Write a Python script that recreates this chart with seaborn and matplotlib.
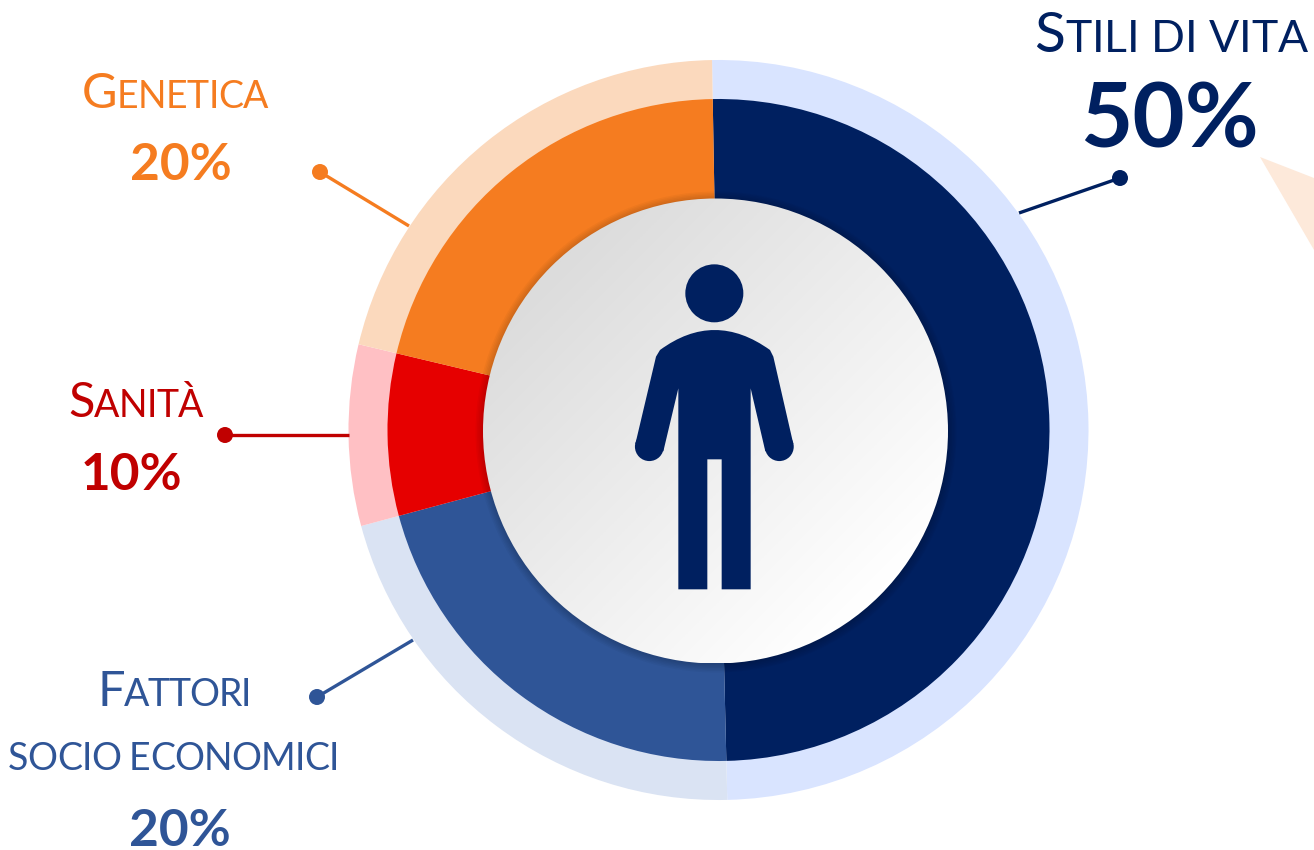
import numpy as np
import seaborn as sns
import matplotlib.pyplot as plt
from matplotlib.patches import Circle, Polygon, PathPatch
from matplotlib.path import Path

categories = ['Stili di vita', 'Fattori socio economici', 'Sanità', 'Genetica']
# angular shares as drawn (the ring is not exactly the printed percentages)
shares = [49.9, 21.2, 7.9, 21.0]
printed = ['50%', '20%', '10%', '20%']
ring_colors = ['#002060', '#2F5597', '#E60000', '#F57C20']
halo_colors = ['#D9E4FF', '#DAE3F3', '#FFC0C4', '#FBD9BD']
text_colors = ['#002060', '#2F5597', '#C00000', '#F57C20']

FONT = 'Lato'

sns.set_theme(style='white')
plt.rcParams['font.family'] = [FONT, 'DejaVu Sans']

fig = plt.figure(figsize=(13.14, 8.5), dpi=100)
ax = fig.add_axes([0, 0, 1, 1])

# y runs downward so everything is in picture pixels, theta goes clockwise on screen
cx, cy = 718.5, 430
ax.pie(shares, colors=halo_colors, radius=370, center=(cx, cy), startangle=-91,
       wedgeprops={'linewidth': 0})
ax.pie(shares, colors=ring_colors, radius=331, center=(cx, cy), startangle=-91,
       wedgeprops={'linewidth': 0})
ax.set_xlim(0, 1314)
ax.set_ylim(850, 0)
ax.set_aspect('equal')
ax.axis('off')

# soft shadow below the centre disc
disc_x, disc_y, disc_r = 715.5, 431, 232.5
for grow in np.arange(8, 0, -1.5):
    ax.add_patch(Circle((disc_x + 0.5, disc_y + 1), disc_r + grow, fc='black',
                        ec='none', alpha=0.03, zorder=3))

# centre disc with diagonal grey gradient
xx, yy = np.meshgrid(np.linspace(0, 1, 300), np.linspace(0, 1, 300))
shade = np.clip((xx + yy - 0.3) / 1.4, 0, 1)
gradient = ax.imshow(shade, cmap=sns.blend_palette(['#DCDCDC', '#FFFFFF'], as_cmap=True),
                     extent=(disc_x - disc_r, disc_x + disc_r, disc_y + disc_r, disc_y - disc_r),
                     zorder=4, aspect='equal', interpolation='bilinear')
clip = Circle((disc_x, disc_y), disc_r, transform=ax.transData)
gradient.set_clip_path(clip)
ax.set_xlim(0, 1314)
ax.set_ylim(850, 0)


# person icon, coordinates read from a zoom at 3x
def zoomed(x, y):
    return (620 + x / 3, 250 + y / 3)


navy = ring_colors[0]
ax.add_patch(Circle(zoomed(283, 130), 29, fc=navy, ec='none', zorder=5))
ax.add_patch(Circle(zoomed(88, 590), 14.4, fc=navy, ec='none', zorder=5))
ax.add_patch(Circle(zoomed(478, 590), 14.4, fc=navy, ec='none', zorder=5))
verts = [(120, 300), (283, 180), (450, 300), (460, 320), (520, 582), (436, 604), (392, 415),
         (392, 1018), (305, 1018), (305, 628), (262, 628), (262, 1018), (175, 1018),
         (175, 415), (130, 604), (46, 582), (108, 320), (120, 300)]
codes = [Path.MOVETO, Path.CURVE3, Path.CURVE3] + [Path.LINETO] * 15
body = Path([zoomed(*v) for v in verts], codes)
ax.add_patch(PathPatch(body, fc=navy, ec='none', zorder=5))

# faint triangle cut off by the right edge
ax.add_patch(Polygon([(1260, 157), (1314, 178), (1314, 250)], fc='#FDE9DA', ec='none', zorder=1))

# leader lines
leaders = [((1019, 213), (1120, 178)), ((413, 640), (317, 697)),
           ((349, 435), (225, 435)), ((409, 226), (320, 172))]
for (start, end), color in zip(leaders, text_colors):
    ax.plot([start[0], end[0]], [start[1], end[1]], color=color, lw=2.4, zorder=2,
            solid_capstyle='butt')
    ax.add_patch(Circle(end, 8, fc=color, ec='none', zorder=2))


def small_caps(x, end, base, word, big, small, color):
    # first letter large, the rest as smaller capitals, spaced to fill x..end
    renderer = fig.canvas.get_renderer()
    letters = []
    total = 0
    for ch in word:
        size = big if ch.isupper() else small
        if ch == ' ':
            width = size * 100 / 72 * 0.24
            letters.append((None, width))
        else:
            t = ax.text(x, base, ch.upper(), fontsize=size, color=color, ha='left',
                        va='baseline', zorder=6)
            width = t.get_window_extent(renderer).width
            letters.append((t, width))
        total += width
    gap = (end - x - total) / (len(word) - 1)
    for t, width in letters:
        if t is not None:
            t.set_x(x)
        x += width + gap


small_caps(1034, 1308, 52, 'Stili di vita', 41, 32, text_colors[0])
small_caps(82, 268, 108, 'Genetica', 35, 27, text_colors[3])
small_caps(68, 203, 417, 'Sanità', 35, 27, text_colors[2])
small_caps(97, 251, 706, 'Fattori', 35, 27, text_colors[1])
small_caps(8, 339, 770, 'socio economici', 27, 27, text_colors[1])

pct_pos = [(1169, 147, 65), (180, 846, 37), (131, 490, 37), (181, 180, 37)]
for (x, y, size), label, color in zip(pct_pos, printed, text_colors):
    ax.text(x, y, label, fontsize=size, fontweight='bold', color=color, ha='center',
            va='baseline', zorder=6)

fig.savefig('out.png', dpi=100)
